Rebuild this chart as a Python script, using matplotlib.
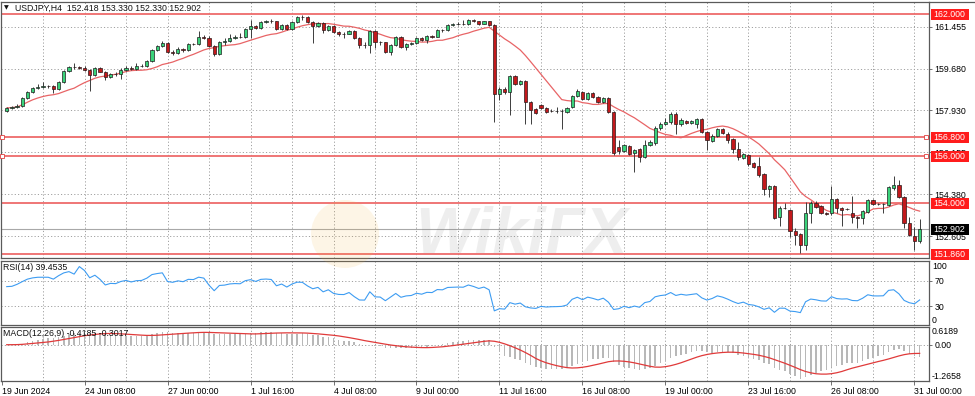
import numpy as np
import pandas as pd
import matplotlib
matplotlib.use("Agg")
import matplotlib.pyplot as plt
import matplotlib.transforms as mtransforms
from matplotlib.patches import Rectangle, Circle
from matplotlib.lines import Line2D

plt.rcParams['font.family'] = ['Liberation Sans', 'DejaVu Sans']
plt.rcParams['font.size'] = 6.3

# ---------- USDJPY H4 candles (bars 1..177) ----------
opens = [157.90, 158.03, 158.07, 158.12, 158.45, 158.71, 158.88, 158.92, 158.96, 158.94,
         158.84, 159.13, 159.60, 159.76, 159.75, 159.74, 159.64, 159.43, 159.72, 159.57,
         159.34, 159.47, 159.46, 159.64, 159.74, 159.68, 159.79, 159.81, 160.02, 160.48,
         160.65, 160.78, 160.40, 160.36, 160.52, 160.48, 160.74, 160.74, 161.03, 160.99,
         160.65, 160.31, 160.82, 160.86, 160.99, 161.03, 161.02, 161.37, 161.50, 161.41,
         161.67, 161.71, 161.69, 161.37, 161.54, 161.37, 161.67, 161.88, 161.87, 161.67,
         161.50, 161.62, 161.33, 161.50, 161.24, 161.16, 161.16, 161.29, 160.99, 160.69,
         160.69, 161.29, 160.82, 160.80, 160.40, 160.69, 161.03, 160.61, 160.74, 160.78,
         160.99, 160.90, 161.07, 161.05, 161.33, 161.31, 161.54, 161.56, 161.58, 161.57,
         161.77, 161.69, 161.58, 161.69, 161.54, 158.62, 158.83, 158.71, 159.38, 159.05,
         159.17, 158.28, 157.99, 158.16, 158.03, 157.90, 157.89, 157.90, 157.86, 158.07,
         158.54, 158.71, 158.41, 158.67, 158.50, 158.28, 158.45, 157.86, 156.38, 156.21,
         156.43, 156.13, 156.30, 155.96, 156.47, 156.55, 157.19, 157.36, 157.44, 157.78,
         157.36, 157.48, 157.40, 157.36, 157.57, 157.02, 156.64, 156.85, 157.14, 156.93,
         156.72, 156.30, 155.92, 156.05, 155.71, 155.58, 155.24, 154.61, 154.74, 153.43,
         153.81, 153.72, 152.83, 152.71, 152.24, 153.59, 154.02, 153.89, 153.59, 153.59,
         154.19, 153.81, 153.76, 153.59, 153.43, 153.38, 153.64, 154.14, 153.97, 153.97,
         153.93, 154.65, 154.78, 154.27, 153.17, 152.62, 152.418]
highs = [158.07, 158.12, 158.20, 158.50, 158.75, 158.92, 159.05, 159.13, 159.00, 159.00,
         159.17, 159.64, 159.81, 159.93, 159.81, 159.81, 159.68, 159.76, 159.76, 159.60,
         159.51, 159.55, 159.72, 159.81, 159.81, 159.93, 159.89, 160.06, 160.53, 160.69,
         160.86, 160.82, 160.48, 160.61, 160.57, 160.78, 160.78, 161.29, 161.12, 161.07,
         160.69, 160.86, 160.99, 161.16, 161.12, 161.20, 161.41, 161.75, 161.54, 161.71,
         161.75, 161.79, 161.71, 161.58, 161.58, 161.71, 161.92, 161.96, 161.92, 161.71,
         161.67, 161.67, 161.54, 161.54, 161.29, 161.24, 161.33, 161.33, 161.03, 160.82,
         161.33, 161.33, 160.86, 160.82, 160.74, 161.07, 161.07, 160.78, 160.82, 161.03,
         161.03, 161.12, 161.12, 161.37, 161.37, 161.58, 161.62, 161.67, 161.75, 161.79,
         161.79, 161.71, 161.71, 161.71, 161.58, 158.92, 158.92, 159.43, 159.43, 159.22,
         159.22, 158.33, 158.03, 158.20, 158.07, 157.99, 158.07, 157.99, 158.07, 158.58,
         158.84, 158.75, 158.71, 158.71, 158.54, 158.50, 158.50, 157.90, 156.68, 156.51,
         156.47, 156.30, 156.34, 156.68, 156.68, 157.27, 157.44, 157.61, 157.86, 157.86,
         157.61, 157.52, 157.52, 157.61, 157.61, 157.06, 156.93, 157.19, 157.19, 157.02,
         156.76, 156.60, 156.13, 156.09, 155.75, 155.96, 155.28, 154.78, 154.78, 153.89,
         154.02, 153.76, 152.96, 152.75, 154.06, 154.10, 154.10, 153.93, 153.64, 154.74,
         154.23, 153.85, 153.81, 154.31, 153.47, 153.72, 154.19, 154.19, 154.02, 154.02,
         154.74, 155.16, 154.99, 154.31, 153.43, 153.00, 153.330]
lows = [157.88, 157.99, 158.03, 158.07, 158.41, 158.67, 158.84, 158.88, 158.88, 158.67,
        158.79, 159.09, 159.55, 159.68, 159.68, 159.60, 158.75, 159.38, 159.55, 159.22,
        159.30, 159.38, 159.26, 159.60, 159.64, 159.64, 159.76, 159.76, 159.98, 160.44,
        160.61, 160.36, 160.27, 160.31, 160.40, 160.44, 160.69, 160.69, 160.95, 160.61,
        160.23, 160.27, 160.69, 160.82, 160.95, 160.99, 160.99, 160.99, 161.37, 161.37,
        161.62, 161.62, 161.33, 161.33, 161.33, 161.33, 161.62, 161.75, 161.62, 160.78,
        161.46, 161.20, 161.29, 161.20, 161.07, 160.99, 161.16, 160.95, 160.57, 160.57,
        160.36, 160.57, 160.69, 160.36, 160.27, 160.65, 160.57, 160.48, 160.69, 160.74,
        160.86, 160.78, 160.99, 161.03, 161.24, 161.29, 161.50, 161.54, 161.54, 161.54,
        161.67, 161.54, 161.58, 161.50, 157.44, 158.37, 158.62, 157.74, 159.00, 159.00,
        157.36, 157.36, 157.78, 157.99, 157.82, 157.86, 157.82, 157.14, 157.82, 158.03,
        158.50, 158.37, 158.37, 158.45, 158.24, 158.24, 157.82, 156.05, 156.09, 156.17,
        156.05, 155.33, 155.75, 155.92, 156.43, 156.47, 157.10, 157.31, 157.36, 156.93,
        157.27, 157.36, 157.36, 157.19, 156.97, 156.26, 156.60, 156.81, 156.93, 156.55,
        156.13, 155.83, 155.88, 155.58, 155.50, 155.12, 154.36, 154.27, 153.34, 153.05,
        153.76, 152.58, 152.24, 151.90, 152.03, 153.17, 153.81, 153.55, 153.51, 153.51,
        153.59, 153.05, 153.72, 153.17, 152.96, 153.13, 153.59, 153.93, 153.93, 153.59,
        153.89, 154.57, 154.23, 152.96, 152.62, 152.03, 152.330]
closes = [158.03, 158.07, 158.12, 158.45, 158.71, 158.88, 158.92, 158.96, 158.94, 158.84,
          159.13, 159.60, 159.76, 159.75, 159.74, 159.64, 159.43, 159.72, 159.57, 159.34,
          159.47, 159.46, 159.64, 159.74, 159.68, 159.79, 159.81, 160.02, 160.48, 160.65,
          160.78, 160.40, 160.36, 160.52, 160.48, 160.74, 160.73, 161.03, 160.99, 160.65,
          160.31, 160.82, 160.86, 160.99, 161.03, 161.02, 161.37, 161.50, 161.41, 161.67,
          161.71, 161.69, 161.37, 161.54, 161.37, 161.67, 161.88, 161.87, 161.67, 161.50,
          161.62, 161.33, 161.50, 161.24, 161.16, 161.15, 161.29, 160.99, 160.69, 160.68,
          161.29, 160.82, 160.80, 160.40, 160.69, 161.03, 160.61, 160.74, 160.78, 160.99,
          160.90, 161.07, 161.05, 161.33, 161.31, 161.54, 161.56, 161.58, 161.57, 161.77,
          161.69, 161.58, 161.69, 161.54, 158.62, 158.83, 158.71, 159.38, 159.05, 159.17,
          158.28, 157.95, 157.82, 158.03, 157.86, 157.89, 157.90, 157.92, 158.03, 158.54,
          158.75, 158.41, 158.67, 158.50, 158.28, 158.45, 157.86, 156.13, 156.21, 156.47,
          156.09, 156.26, 155.96, 156.47, 156.60, 157.19, 157.36, 157.44, 157.78, 157.36,
          157.52, 157.40, 157.48, 157.57, 157.02, 156.68, 156.85, 157.14, 156.97, 156.68,
          156.30, 155.96, 156.09, 155.67, 155.54, 155.20, 154.61, 154.74, 153.38, 153.81,
          153.79, 152.83, 152.66, 152.24, 153.59, 154.02, 153.85, 153.59, 153.55, 154.19,
          153.81, 153.72, 153.75, 153.43, 153.38, 153.68, 154.14, 153.97, 153.96, 153.98,
          154.69, 154.78, 154.27, 153.17, 152.66, 152.41, 152.902]

# RSI of the first 14 bars (history before the window)
rsi_head = [61.0, 61.5, 64.7, 69.0, 73.0, 75.0, 76.0, 76.0, 76.0, 73.0, 78.5, 83.0, 85.0, 81.0]

# axis labels / levels
price_ticks = [161.455, 159.680, 157.930, 156.155, 154.380, 152.605]
level_lines = [162.000, 156.800, 156.000, 154.000, 151.860]
last_price = 152.902
date_pos = [0, 16, 32, 48, 64, 80, 96, 112, 128, 144, 160, 176]
date_labels = ['19 Jun 2024', '24 Jun 08:00', '27 Jun 00:00', '1 Jul 16:00', '4 Jul 08:00',
               '9 Jul 00:00', '11 Jul 16:00', '16 Jul 08:00', '19 Jul 00:00', '23 Jul 16:00',
               '26 Jul 08:00', '31 Jul 00:00']

o = np.array(opens); h = np.array(highs); l = np.array(lows); c = np.array(closes)
idx = np.arange(1, len(c) + 1)

# indicators from the closes (MA 14, RSI 14, MACD 12/26/9)
cs = pd.Series(c)
ma = cs.rolling(14, min_periods=1).mean()
d = cs.diff()
g = d.clip(lower=0).ewm(alpha=1/14, adjust=False).mean()
ls_ = (-d.clip(upper=0)).ewm(alpha=1/14, adjust=False).mean()
rsi = (100 - 100 / (1 + g / ls_)).to_numpy()
rsi[:len(rsi_head)] = rsi_head
macd = cs.ewm(span=12, adjust=False).mean() - cs.ewm(span=26, adjust=False).mean()
signal = macd.rolling(9, min_periods=1).mean()

# ---------- layout (pixel boxes) ----------
W, H = 975, 396
fig = plt.figure(figsize=(9.75, 3.96), dpi=100)


def box(x0, y0, x1, y1):
    return [x0 / W, 1 - y1 / H, (x1 - x0) / W, (y1 - y0) / H]


ax = fig.add_axes(box(1, 2, 929, 258))
ax_rsi = fig.add_axes(box(1, 261, 929, 325))
ax_macd = fig.add_axes(box(1, 327, 929, 381))

grid_kw = dict(color='#a0a0a0', lw=0.7, ls=(0, (1.2, 2.2)), zorder=1)
for a in (ax, ax_rsi, ax_macd):
    a.set_xlim(-0.1, 178.8)
    for gx in range(8, 179, 8):
        a.axvline(gx, **grid_kw)
    for s in a.spines.values():
        s.set_color('#5a5a5a')
        s.set_linewidth(0.9)
    a.yaxis.tick_right()
    a.tick_params(axis='y', length=2.5, width=0.6, pad=1.5, labelsize=6.3, color='#5a5a5a')
    a.tick_params(axis='x', bottom=False, labelbottom=False)

# ---------- main price panel ----------
ax.set_ylim(151.692, 162.51)
ax.set_yticks(price_ticks)
ax.set_yticklabels(['%.3f' % v for v in price_ticks])
for v in price_ticks:
    ax.axhline(v, **grid_kw)

up = c >= o
body = np.maximum(np.abs(c - o), 0.02)
ax.vlines(idx, l, h, color='#3c3c3c', lw=0.7, zorder=3)
ax.bar(idx[up], body[up], bottom=o[up], width=0.62, color='#3ad27a',
       edgecolor='#1e1e1e', lw=0.5, zorder=4)
ax.bar(idx[~up], body[~up], bottom=c[~up], width=0.62, color='#c3191c',
       edgecolor='#2a1a1a', lw=0.5, zorder=4)
ax.plot(idx, ma, color='#e86466', lw=0.9, zorder=2.5)

for v in level_lines:
    ax.axhline(v, color='#ee6b6b', lw=1.3, zorder=2)
ax.axhline(last_price, color='#a8a8a8', lw=0.8, zorder=2)
for v in (156.8, 156.0):
    ax.plot([0.1, 178.3], [v, v], ls='none', marker='s', ms=2.6,
            mfc='white', mec='#e04040', mew=0.6, zorder=6, clip_on=False)

trans = mtransforms.blended_transform_factory(ax.transAxes, ax.transData)
px = (162.51 - 151.692) / 256
for v, col in [(162.0, '#ff1c1c'), (156.8, '#ff1c1c'), (156.0, '#ff1c1c'),
               (154.0, '#ff1c1c'), (151.86, '#ff1c1c'), (last_price, '#000000')]:
    ax.add_patch(Rectangle((1 + 2 / 928, v - 5.5 * px), 38 / 928, 11 * px, transform=trans,
                           facecolor=col, edgecolor='none', clip_on=False, zorder=10))
    ax.text(1 + 4 / 928, v, '%.3f' % v, transform=trans, color='white', ha='left',
            va='center', fontsize=6.3, zorder=11, clip_on=False)

ax.text(5 / 928, 1 - 6 / 256, '\u25bc', transform=ax.transAxes, fontsize=4.5,
        family='DejaVu Sans', ha='center', va='center', color='#111111')
ax.text(14 / 928, 1 - 6 / 256, 'USDJPY,H4  152.418 153.330 152.330 152.902',
        transform=ax.transAxes, ha='left', va='center', color='#111111')

# ---------- RSI panel ----------
ax_rsi.set_ylim(-0.4, 102)
ax_rsi.set_yticks([70, 30])
ax_rsi.set_yticklabels(['70', '30'])
ax_rsi.axhline(70, **grid_kw)
ax_rsi.axhline(30, **grid_kw)
tr = mtransforms.blended_transform_factory(ax_rsi.transAxes, ax_rsi.transData)
ax_rsi.text(1 + 3 / 928, 100, '100', transform=tr, ha='left', va='top', fontsize=6.3)
ax_rsi.text(1 + 3 / 928, 0, '0', transform=tr, ha='left', va='bottom', fontsize=6.3)
ax_rsi.plot(idx, rsi, color='#3d9cf2', lw=0.8, zorder=3)
ax_rsi.text(2 / 928, 1 - 7 / 64, 'RSI(14) 39.4535', transform=ax_rsi.transAxes,
            ha='left', va='center', color='#111111')

# ---------- MACD panel ----------
ax_macd.set_ylim(-1.2658, 0.6189)
ax_macd.set_yticks([0.0])
ax_macd.set_yticklabels(['0.00'])
ax_macd.axhline(0, **grid_kw)
tm = mtransforms.blended_transform_factory(ax_macd.transAxes, ax_macd.transData)
ax_macd.text(1 + 3 / 928, 0.6189, '0.6189', transform=tm, ha='left', va='top', fontsize=6.3)
ax_macd.text(1 + 3 / 928, -1.2658, '-1.2658', transform=tm, ha='left', va='bottom', fontsize=6.3)
ax_macd.bar(idx, macd, width=0.3, color='#b8b8b8', zorder=2)
ax_macd.plot(idx, signal, color='#e03a3a', lw=0.9, zorder=3)
ax_macd.text(2 / 928, 1 - 7 / 54, 'MACD(12,26,9) -0.4185 -0.3017', transform=ax_macd.transAxes,
             ha='left', va='center', color='#111111')

ax_macd.set_xticks(date_pos)
ax_macd.set_xticklabels(date_labels, ha='left')
ax_macd.tick_params(axis='x', bottom=True, labelbottom=True, length=3, width=0.6,
                    pad=1.5, labelsize=6.3, color='#5a5a5a')

# frame line on the price scale side
fig.add_artist(Line2D([929 / W, 1], [1 - 2 / H, 1 - 2 / H], color='#5a5a5a', lw=0.9))

# faint watermark
fig.text(522 / W, 1 - 236 / H, 'WikiFX', fontsize=46, fontweight='bold', style='italic',
         color='#7a7a7a', alpha=0.12, ha='center', va='center', zorder=20)
fig.add_artist(Circle((3.45, 3.96 - 2.34), 0.34, transform=fig.dpi_scale_trans,
                      facecolor='#f5b335', alpha=0.12, edgecolor='none', zorder=20))

fig.savefig('out.png', dpi=100, facecolor='white')
